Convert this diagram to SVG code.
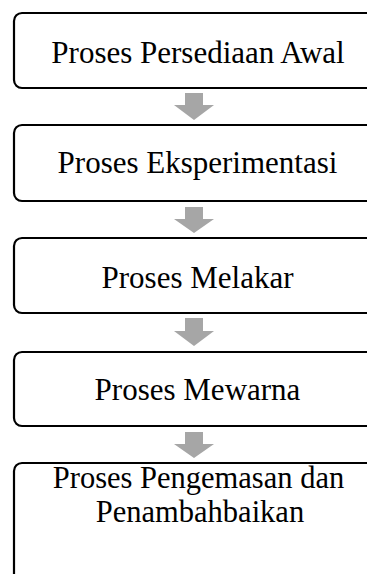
<svg xmlns="http://www.w3.org/2000/svg" width="367" height="574" viewBox="0 0 367 574">
<style>
.box{fill:#fff;stroke:#000;stroke-width:2.2}
.t{font-family:"Liberation Serif","Times New Roman",serif;font-size:31px;fill:#000;text-anchor:middle}
.t2{font-size:30.5px}
.arr{fill:#a6a6a6}
</style>
<rect width="367" height="574" fill="#fff"/>
<g id="connectors">
<path class="arr" d="M185,93 H203 V105 H214 L194,120 L174,105 H185 Z"/>
<path class="arr" d="M185,207 H203 V219 H214 L194,233 L174,219 H185 Z"/>
<path class="arr" d="M185,318 H203 V331 H214 L194,346 L174,331 H185 Z"/>
<path class="arr" d="M185,432 H203 V444 H214 L194,458 L174,444 H185 Z"/>
</g>
<g id="n1">
<rect class="box" x="14" y="13" width="372" height="75" rx="8"/>
<text class="t" x="198" y="63">Proses Persediaan  Awal</text>
</g>
<g id="n2">
<rect class="box" x="14" y="125" width="372" height="76" rx="8"/>
<text class="t" x="197.5" y="173">Proses Eksperimentasi</text>
</g>
<g id="n3">
<rect class="box" x="14" y="238" width="372" height="75" rx="8"/>
<text class="t" x="197.5" y="288">Proses Melakar</text>
</g>
<g id="n4">
<rect class="box" x="14" y="352" width="372" height="74" rx="8"/>
<text class="t" x="197.5" y="400">Proses Mewarna</text>
</g>
<g id="n5">
<rect class="box" x="14" y="463" width="372" height="140" rx="8"/>
<text class="t t2" x="198.5" y="488">Proses Pengemasan  dan</text>
<text class="t t2" x="200" y="522">Penambahbaikan</text>
</g>
</svg>
